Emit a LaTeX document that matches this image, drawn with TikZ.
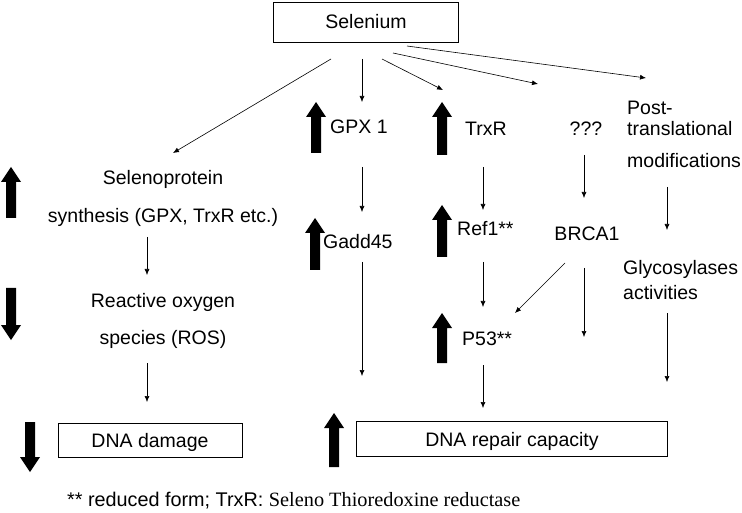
\documentclass[tikz,border=0pt]{standalone}
\usepackage{fontspec}
\setmainfont{Liberation Sans}
\newfontfamily\serifft{Liberation Serif}
\usetikzlibrary{arrows.meta}
\newcommand\BigArrUp[3]{% x, ytop, ybottom
  \fill (#1-5,#3) -- (#1-5,#2+15) -- (#1-10,#2+15) -- (#1,#2) -- (#1+10,#2+15) -- (#1+5,#2+15) -- (#1+5,#3) -- cycle;}
\newcommand\BigArrDown[3]{% x, ytop, ybottom
  \fill (#1-5,#2) -- (#1-5,#3-15) -- (#1-10,#3-15) -- (#1,#3) -- (#1+10,#3-15) -- (#1+5,#3-15) -- (#1+5,#2) -- cycle;}
\tikzset{
  lbl/.style={inner sep=0pt, text height=14pt, text depth=0pt, font=\fontsize{19.5}{24}\selectfont},
  boxed/.style={draw, line width=0.8pt, inner sep=0pt},
  conn/.style={line width=0.6pt, -{Latex[length=6pt,width=5pt]}},
}
\begin{document}
\begin{tikzpicture}[x=1pt,y=-1pt]
\useasboundingbox (0,0) rectangle (742,513);
% boxes
\node[boxed, minimum width=185pt, minimum height=40pt] (sel) at (365.5,22) {};
\node[lbl] (seltxt) at (366,22) {Selenium};
\node[boxed, minimum width=184pt, minimum height=34pt] (dmg) at (150,440) {};
\node[lbl] (dmgtxt) at (150,440) {DNA damage};
\node[boxed, minimum width=311pt, minimum height=35pt] (rep) at (511.5,438.5) {};
\node[lbl] (reptxt) at (512,439) {DNA repair capacity};
% labels
\node[lbl] (selp1) at (163,178) {Selenoprotein};
\node[lbl] (selp2) at (163,216) {synthesis (GPX, TrxR etc.)};
\node[lbl] (ros1) at (163,300) {Reactive oxygen};
\node[lbl] (ros2) at (163,337) {species (ROS)};
\node[lbl, anchor=west] (gpx) at (330,127) {GPX 1};
\node[lbl, anchor=west] (trxr) at (465,129) {TrxR};
\node[lbl] (qqq) at (586,129) {???};
\node[lbl, anchor=west] (post1) at (627,108) {Post-};
\node[lbl, anchor=west] (post2) at (627,129) {translational};
\node[lbl, anchor=west] (post3) at (627,161) {modifications};
\node[lbl, anchor=west] (gadd) at (323,242) {Gadd45};
\node[lbl, anchor=west] (ref1) at (457,229) {Ref1**};
\node[lbl] (brca) at (587,234) {BRCA1};
\node[lbl, anchor=west] (glyc1) at (623,268) {Glycosylases};
\node[lbl, anchor=west] (glyc2) at (623,292) {activities};
\node[lbl, anchor=west] (p53) at (462,338) {P53**};
\node[lbl, anchor=west, font=\fontsize{19.8}{24}\selectfont] (foot) at (67,499) {** reduced form; TrxR: {\serifft\fontsize{20.3}{24}\selectfont Seleno Thioredoxine reductase}};
% big arrows
\BigArrUp{11}{167}{218}
\BigArrDown{11}{288}{340}
\BigArrDown{30}{422}{472}
\BigArrUp{316}{102}{153}
\BigArrUp{442}{102}{155}
\BigArrUp{315}{218}{270}
\BigArrUp{442}{205}{257}
\BigArrUp{442}{313}{363}
\BigArrUp{334}{413}{467}
% connector end points
\coordinate (s1) at (331,59);  \coordinate (e1) at (173,153);
\coordinate (s2) at (362,59);  \coordinate (e2) at (362,102);
\coordinate (s3) at (382,59);  \coordinate (e3) at (443,90);
\coordinate (s4) at (393,53);  \coordinate (e4) at (538,84);
\coordinate (s5) at (407,46);  \coordinate (e5) at (646,78);
\coordinate (a1) at (362,167); \coordinate (b1) at (362,212);
\coordinate (a2) at (483,167); \coordinate (b2) at (483,210);
\coordinate (a3) at (584,155); \coordinate (b3) at (584,198);
\coordinate (a4) at (667,187); \coordinate (b4) at (667,230);
\coordinate (a5) at (147,237); \coordinate (b5) at (147,275);
\coordinate (a6) at (147,363); \coordinate (b6) at (147,402);
\coordinate (a7) at (362,262); \coordinate (b7) at (362,376);
\coordinate (a8) at (483,262); \coordinate (b8) at (483,307);
\coordinate (a9) at (565,263); \coordinate (b9) at (515,313);
\coordinate (a10) at (584,268); \coordinate (b10) at (584,337);
\coordinate (a11) at (667,313); \coordinate (b11) at (667,382);
\coordinate (a12) at (483,365); \coordinate (b12) at (483,408);
\foreach \s/\e in {s1/e1,s2/e2,s3/e3,s4/e4,s5/e5,a1/b1,a2/b2,a3/b3,a4/b4,a5/b5,a6/b6,a7/b7,a8/b8,a9/b9,a10/b10,a11/b11,a12/b12}
  \draw[conn] (\s) -- (\e);
\end{tikzpicture}
\end{document}
